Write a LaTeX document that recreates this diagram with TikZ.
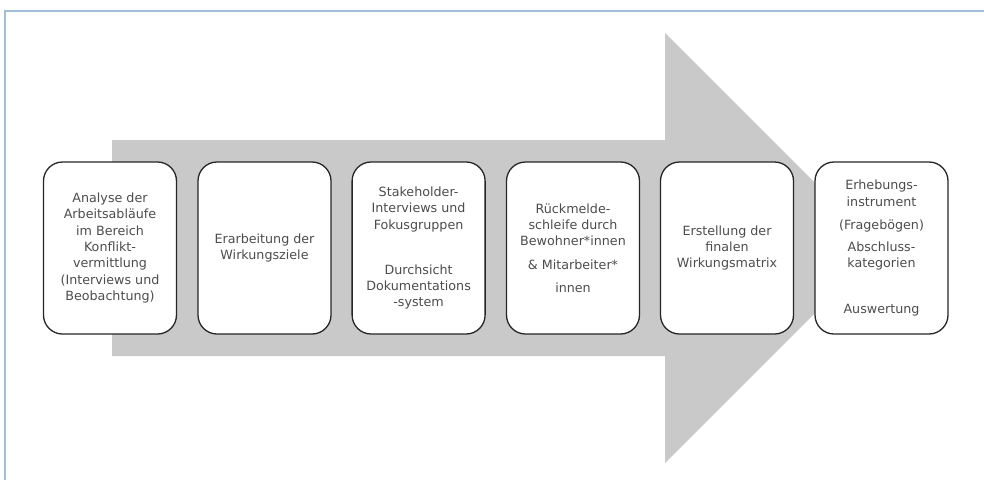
\documentclass[tikz,border=0pt]{standalone}
\usepackage{fontspec}
\setmainfont{DejaVu Sans}
\definecolor{arrowgray}{HTML}{C9C9C9}
\definecolor{boxline}{HTML}{262626}
\definecolor{txtgray}{HTML}{4D4D4D}
\definecolor{frameblue}{HTML}{9DBFE0}
\tikzset{
  stepbox/.style={draw=boxline, line width=1.3pt, fill=white, rounded corners=19pt,
    minimum width=133pt, minimum height=172pt, inner sep=0pt, align=center,
    text=txtgray, font=\fontsize{12.7}{16.3}\selectfont}
}
\begin{document}
\begin{tikzpicture}[x=1pt,y=-1pt]
\useasboundingbox (0,0) rectangle (984,480);
\fill[white] (0,0) rectangle (984,480);
\draw[frameblue, line width=2pt] (5,480) -- (5,11) -- (984,11);
\fill[arrowgray] (112,140) -- (665,140) -- (665,33) -- (880,248) -- (665,463) -- (665,356) -- (112,356) -- cycle;
\node[stepbox] (s1) at (110,248) {Analyse der\\Arbeitsabläufe\\im Bereich\\Konflikt-\\vermittlung\\(Interviews und\\Beobachtung)};
\node[stepbox] (s2) at (264.5,248) {Erarbeitung der\\Wirkungsziele};
\node[stepbox] (s3) at (418.6,248) {Stakeholder-\\Interviews und\\Fokusgruppen\\[28.7pt]Durchsicht\\Dokumentations\\-system};
\node[stepbox] (s4) at (573,248) {Rückmelde-\\schleife durch\\Bewohner*innen\\[7pt]\& Mitarbeiter*\\[7pt]innen};
\node[stepbox] (s5) at (727,248) {Erstellung der\\finalen\\Wirkungsmatrix};
\node[stepbox] (s6) at (881.5,248) {Erhebungs-\\instrument\\[7pt](Fragebögen)\\[6pt]Abschluss-\\kategorien\\[29pt]Auswertung};
\end{tikzpicture}
\end{document}
